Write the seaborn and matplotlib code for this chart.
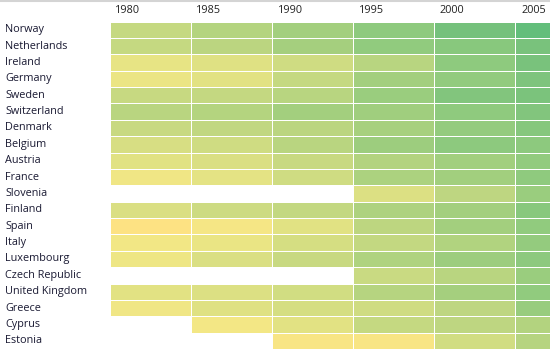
import matplotlib
matplotlib.use("Agg")
import matplotlib.pyplot as plt
from matplotlib.colors import LinearSegmentedColormap
from matplotlib.lines import Line2D
import numpy as np
import pandas as pd
import seaborn as sns

# Human development index
countries = ["Norway", "Netherlands", "Ireland", "Germany", "Sweden", "Switzerland",
             "Denmark", "Belgium", "Austria", "France", "Slovenia", "Finland",
             "Spain", "Italy", "Luxembourg", "Czech Republic", "United Kingdom",
             "Greece", "Cyprus", "Estonia"]
years = ["1980", "1985", "1990", "1995", "2000", "2005"]

nan = np.nan
hdi_1980 = [0.780, 0.780, 0.715, 0.707, 0.777, 0.802, 0.775, 0.745, 0.726, 0.699,
            nan, 0.739, 0.680, 0.696, 0.702, nan, 0.723, 0.699, nan, nan]
hdi_1985 = [0.810, 0.799, 0.729, 0.723, 0.783, 0.810, 0.788, 0.761, 0.739, 0.721,
            nan, 0.766, 0.691, 0.710, 0.739, nan, 0.734, 0.729, 0.694, nan]
hdi_1990 = [0.837, 0.834, 0.761, 0.780, 0.804, 0.837, 0.799, 0.802, 0.775, 0.761,
            nan, 0.785, 0.726, 0.748, 0.775, nan, 0.756, 0.748, 0.723, 0.688]
hdi_1995 = [0.874, 0.869, 0.804, 0.837, 0.853, 0.842, 0.831, 0.847, 0.812, 0.823,
            0.734, 0.820, 0.796, 0.785, 0.818, 0.772, 0.807, 0.761, 0.780, 0.688]
hdi_2000 = [0.918, 0.885, 0.874, 0.866, 0.896, 0.872, 0.864, 0.877, 0.839, 0.839,
            0.793, 0.837, 0.837, 0.815, 0.847, 0.802, 0.834, 0.793, 0.793, 0.758]
hdi_2005 = [0.950, 0.910, 0.910, 0.901, 0.907, 0.896, 0.888, 0.877, 0.866, 0.872,
            0.853, 0.885, 0.869, 0.864, 0.877, 0.853, 0.869, 0.856, 0.812, 0.807]

df = pd.DataFrame(
    {"1980": hdi_1980, "1985": hdi_1985, "1990": hdi_1990,
     "1995": hdi_1995, "2000": hdi_2000, "2005": hdi_2005},
    index=countries,
)[years]

cmap = LinearSegmentedColormap.from_list("ylgn_excel", [
    (0.0, "#FDE283"), (0.05, "#F3E785"), (0.1, "#EBE584"), (0.2, "#DCE083"),
    (0.3, "#CFDC82"), (0.4, "#C1D781"), (0.5, "#B1D37F"), (0.6, "#A0CE7E"),
    (0.72, "#8ECA7E"), (0.88, "#75C17C"), (1.0, "#63BE7B"),
])

sns.set_style("white")
plt.rcParams["font.family"] = ["Open Sans", "DejaVu Sans"]

fig = plt.figure(figsize=(5.5, 3.5), dpi=100)
# heatmap runs past the right edge of the figure, like the original
ax = fig.add_axes([109.5 / 550, 1 / 350, 487 / 550, 327.5 / 350])

sns.heatmap(df, cmap=cmap, vmin=0.68, vmax=0.95, cbar=False,
            linewidths=0.5, linecolor="white", ax=ax)

ax.xaxis.tick_top()
ax.set_xticks(np.arange(len(years)) + 0.07)
ax.set_xticklabels(years, ha="left", fontsize=7.8, color="#222222")
ax.tick_params(axis="x", length=0, pad=4)

ax.set_yticks(np.arange(len(countries)) + 0.5)
ax.set_yticklabels(countries, ha="left", fontsize=7.8, color="#1a1a33", rotation=0)
ax.tick_params(axis="y", length=0, pad=104.5 * 72 / 100)

ax.set_xlabel("")
ax.set_ylabel("")
for s in ax.spines.values():
    s.set_visible(False)

fig.add_artist(Line2D([0, 1], [0.997, 0.997], transform=fig.transFigure,
                      color="#d4d4d4", linewidth=1.5))

fig.savefig("out.png", dpi=100)
